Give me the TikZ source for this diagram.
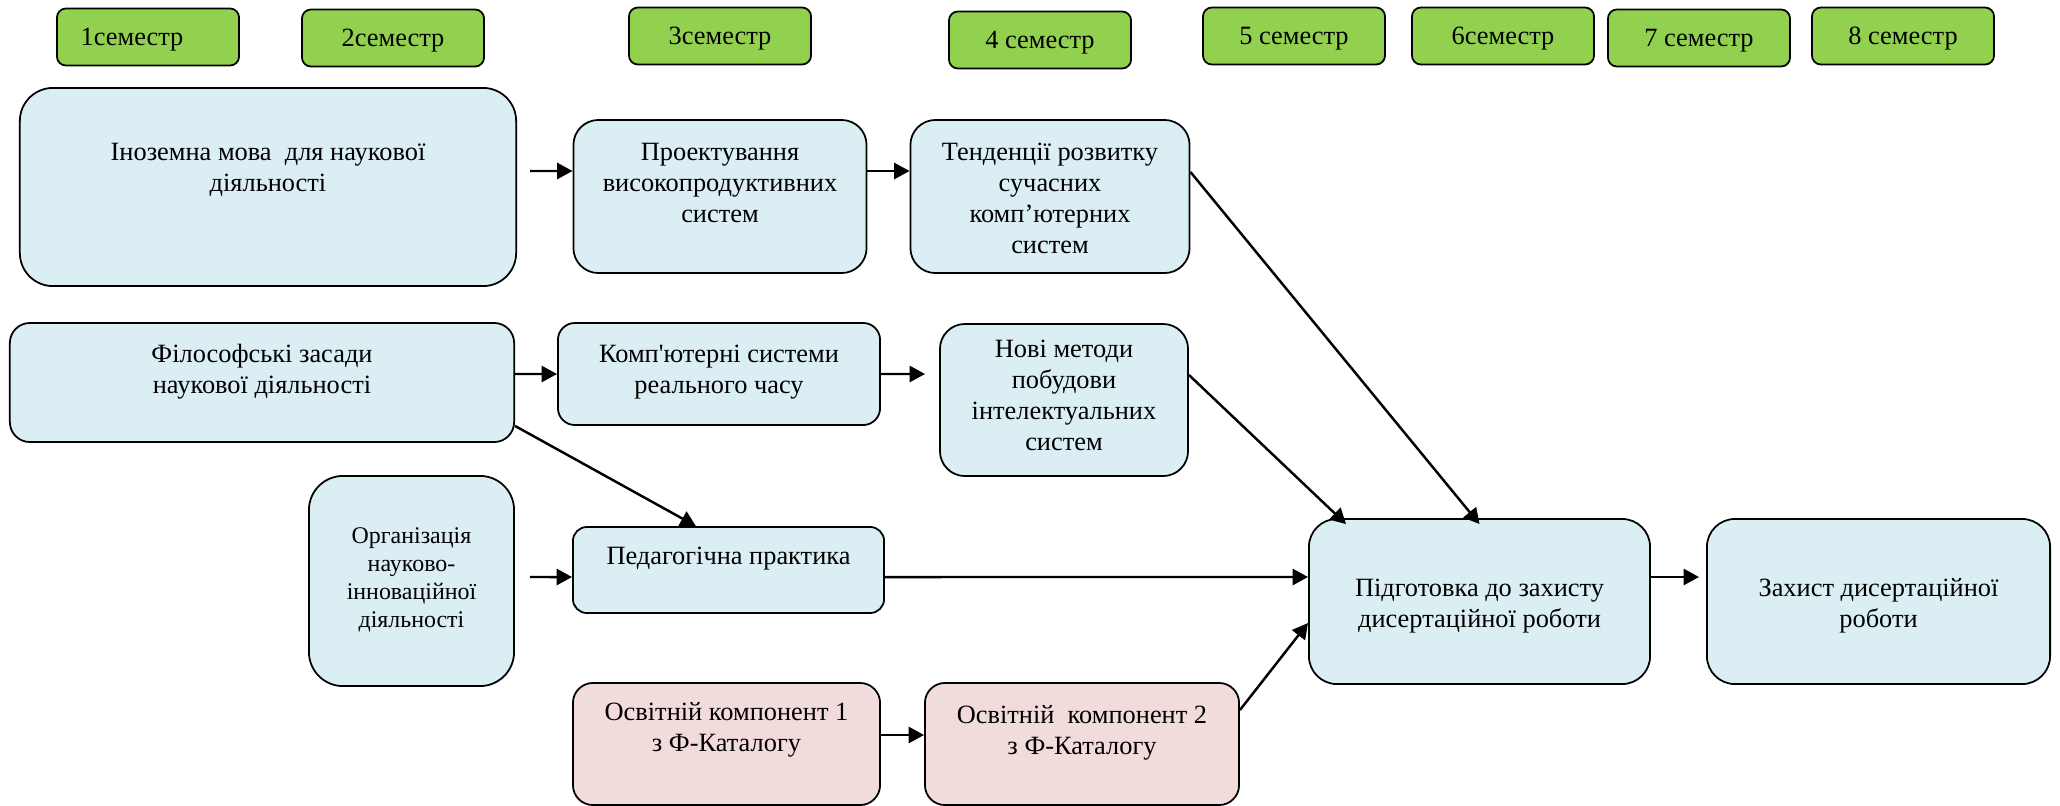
\documentclass[tikz,border=0pt]{standalone}
\usepackage{fontspec}
\setmainfont{Liberation Serif}[Ligatures=TeXOff]
\usetikzlibrary{arrows.meta}
\definecolor{semgreen}{HTML}{92D050}
\definecolor{blockblue}{HTML}{DAEEF3}
\definecolor{catpink}{HTML}{F2DCDB}

\tikzstyle{semester} = [draw, fill=semgreen, rectangle, rounded corners=0.09cm,
    minimum width=1.82cm, minimum height=0.57cm, inner sep=0pt,
    text height=5pt, text depth=0pt]
\tikzstyle{block} = [draw, fill=blockblue, rectangle, align=center,
    inner sep=0pt, text depth=2pt]
\tikzstyle{catalog} = [block, fill=catpink]
\tikzstyle{link} = [draw, ->, line width=0.7pt]

\begin{document}
\begin{tikzpicture}[x=0.01cm, y=-0.01cm, >={Triangle[length=4.4pt,width=4.6pt]},
    font=\fontsize{7.5}{8.8}\selectfont, line width=0.5pt]
    \useasboundingbox (0,0) rectangle (2060,805);
    \node [semester] (sem1) at (148,37) {1семестр\hspace*{0.32cm}};
    \node [semester] (sem2) at (393,38) {2семестр};
    \node [semester] (sem3) at (720,36) {3семестр};
    \node [semester] (sem4) at (1040,40) {4 семестр};
    \node [semester] (sem5) at (1294,36) {5 семестр};
    \node [semester] (sem6) at (1503,36) {6семестр};
    \node [semester] (sem7) at (1699,38) {7 семестр};
    \node [semester] (sem8) at (1903,36) {8 семестр};

    \node [block, minimum width=4.96cm, minimum height=1.98cm, rounded corners=0.33cm,
        text height=4.8pt] (inoz) at (268,187) {Іноземна мова~ для наукової\\діяльності};
    \node [block, minimum width=2.93cm, minimum height=1.53cm, rounded corners=0.25cm,
        text height=17pt] (proekt) at (720,196.5) {Проектування\\високопродуктивних\\систем};
    \node [block, minimum width=2.79cm, minimum height=1.53cm, rounded corners=0.25cm,
        text height=34.6pt] (tend) at (1050,196.5) {Тенденції розвитку\\сучасних\\комп’ютерних\\систем};
    \node [block, minimum width=5.04cm, minimum height=1.19cm, rounded corners=0.2cm,
        text height=8.5pt] (filos) at (262,382.5) {Філософські засади\\наукової діяльності};
    \node [block, minimum width=3.22cm, minimum height=1.02cm, rounded corners=0.17cm,
        text height=13.3pt] (komp) at (719,374) {Комп'ютерні системи\\реального часу};
    \node [block, minimum width=2.48cm, minimum height=1.52cm, rounded corners=0.25cm,
        text height=30.9pt] (novi) at (1064,400) {Нові методи\\побудови\\інтелектуальних\\систем};
    \node [block, minimum width=2.05cm, minimum height=2.1cm, rounded corners=0.34cm,
        text height=28.6pt, font=\fontsize{6.8}{8}\selectfont] (org) at (411.5,581)
        {Організація\\науково-\\інноваційної\\діяльності};
    \node [block, minimum width=3.11cm, minimum height=0.86cm, rounded corners=0.14cm,
        text height=5pt, text depth=8.4pt] (ped) at (728.5,570) {Педагогічна практика};
    \node [catalog, minimum width=3.07cm, minimum height=1.22cm, rounded corners=0.2cm,
        text height=6.5pt] (osv1) at (726.5,744) {Освітній компонент 1\\з Ф-Каталогу};
    \node [catalog, minimum width=3.14cm, minimum height=1.22cm, rounded corners=0.2cm,
        text height=7.7pt] (osv2) at (1082,744) {Освітній~ компонент 2\\з Ф-Каталогу};
    \node [block, minimum width=3.41cm, minimum height=1.65cm, rounded corners=0.28cm,
        text height=16.5pt] (pidg) at (1479.5,601.5) {Підготовка до захисту\\дисертаційної роботи};
    \node [block, minimum width=3.43cm, minimum height=1.65cm, rounded corners=0.28cm,
        text height=16.5pt] (zah) at (1878.5,601.5) {Захист дисертаційної\\роботи};

    \draw [link, shorten <=0.13cm] ([yshift=0.16cm]inoz.east) -- ([yshift=0.255cm]proekt.west);
    \draw [link] ([yshift=0.255cm]proekt.east) -- ([yshift=0.255cm]tend.west);
    \draw [link] ([yshift=0.245cm]tend.east) -- ([yshift=-0.06cm]pidg.north);
    \draw [link] ([yshift=0.085cm]filos.east) -- (komp.west);
    \draw [link, shorten >=0.14cm] (komp.east) -- ([yshift=0.26cm]novi.west);
    \draw [link] ([yshift=0.25cm]novi.east) -- ([xshift=0.38cm,yshift=-0.06cm]pidg.north west);
    \draw [link] ([yshift=0.17cm]filos.south east) -- ([xshift=-0.325cm]ped.north);
    \draw [link, shorten <=0.15cm] ([yshift=0.04cm]org.east) -- ([yshift=-0.07cm]ped.west);
    \draw [link] ([yshift=-0.07cm]ped.east) -- ([yshift=0.245cm]pidg.west);
    \draw [link] ([yshift=0.09cm]osv1.east) -- ([yshift=0.09cm]osv2.west);
    \draw [link] ([yshift=0.34cm]osv2.east) -- ([yshift=-0.215cm]pidg.west);
    \draw [link, shorten >=0.07cm] ([yshift=0.245cm]pidg.east) -- ([yshift=0.245cm]zah.west);
\end{tikzpicture}
\end{document}
